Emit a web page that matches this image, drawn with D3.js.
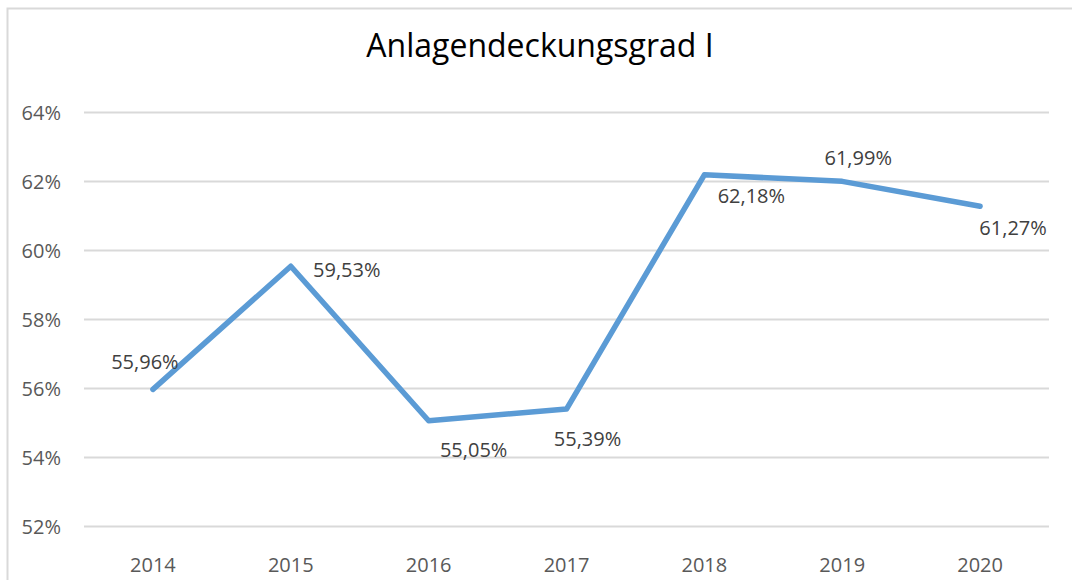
<!DOCTYPE html>
<html>
<head>
<meta charset="utf-8">
<script src="https://cdn.jsdelivr.net/npm/d3@7"></script>
<style>
  html, body { margin: 0; padding: 0; background: #fff; }
  svg { display: block; font-family: "Open Sans", sans-serif; }
</style>
</head>
<body>
<svg class="chart"></svg>
<script>
const width = 1072,
  height = 580;

const title = "Anlagendeckungsgrad I";
const years = ["2014", "2015", "2016", "2017", "2018", "2019", "2020"];
const values = [55.96, 59.53, 55.05, 55.39, 62.18, 61.99, 61.27];
const yTicks = [52, 54, 56, 58, 60, 62, 64];

// where each value label sits relative to its point (hand placed, like the original)
const labelOffset = [[-8, -20], [56, 11], [45, 36], [21, 37], [47, 28], [16, -16], [33, 29]];

const margin = { top: 112, right: 23, bottom: 54, left: 84 };

let chart = d3.select(".chart")
  .attr("width", width)
  .attr("height", height);

// outer frame
chart.append("rect")
  .attr("x", 7.5).attr("y", 8.5)
  .attr("width", width + 20).attr("height", height + 20)
  .attr("fill", "none")
  .attr("stroke", "#d9d9d9")
  .attr("stroke-width", 2);

chart.append("text")
  .attr("x", 540)
  .attr("y", 57)
  .attr("text-anchor", "middle")
  .attr("font-size", 32)
  .attr("fill", "#000")
  .text(title);

let x = d3.scaleBand()
  .domain(years)
  .range([margin.left, width - margin.right]);

let y = d3.scaleLinear()
  .domain([52, 64])
  .range([height - margin.bottom, margin.top]);

let pct = d => d3.format(".0f")(d) + "%";

// gridlines
chart.append("g")
  .attr("transform", `translate(${margin.left},0)`)
  .call(d3.axisLeft(y).tickValues(yTicks).tickSize(-(width - margin.left - margin.right)).tickFormat(pct))
  .call(g => g.select(".domain").remove())
  .call(g => g.selectAll(".tick line").attr("stroke", "#d9d9d9").attr("stroke-width", 2))
  .call(g => g.selectAll(".tick text")
    .attr("x", -23)
    .attr("dy", "0.35em")
    .attr("font-size", 20)
    .attr("font-family", "Open Sans")
    .attr("fill", "#595959"));

chart.append("g")
  .attr("transform", `translate(0,${height - margin.bottom})`)
  .call(d3.axisBottom(x).tickSize(0))
  .call(g => g.select(".domain").remove())
  .call(g => g.selectAll(".tick text")
    .attr("y", 0)
    .attr("dy", 46)
    .attr("font-size", 20)
    .attr("font-family", "Open Sans")
    .attr("fill", "#595959"));

let cx = d => x(d) + x.bandwidth() / 2;

let line = d3.line()
  .x((d, i) => cx(years[i]))
  .y(d => y(d));

chart.append("path")
  .datum(values)
  .attr("d", line)
  .attr("fill", "none")
  .attr("stroke", "#5b9bd5")
  .attr("stroke-width", 5.5)
  .attr("stroke-linejoin", "round")
  .attr("stroke-linecap", "round");

chart.append("g").selectAll("text")
  .data(values)
  .enter().append("text")
  .attr("x", (d, i) => cx(years[i]) + labelOffset[i][0])
  .attr("y", (d, i) => y(d) + labelOffset[i][1])
  .attr("text-anchor", "middle")
  .attr("font-size", 20)
  .attr("fill", "#404040")
  .text(d => d3.format(".2f")(d).replace(".", ",") + "%");
</script>
</body>
</html>
